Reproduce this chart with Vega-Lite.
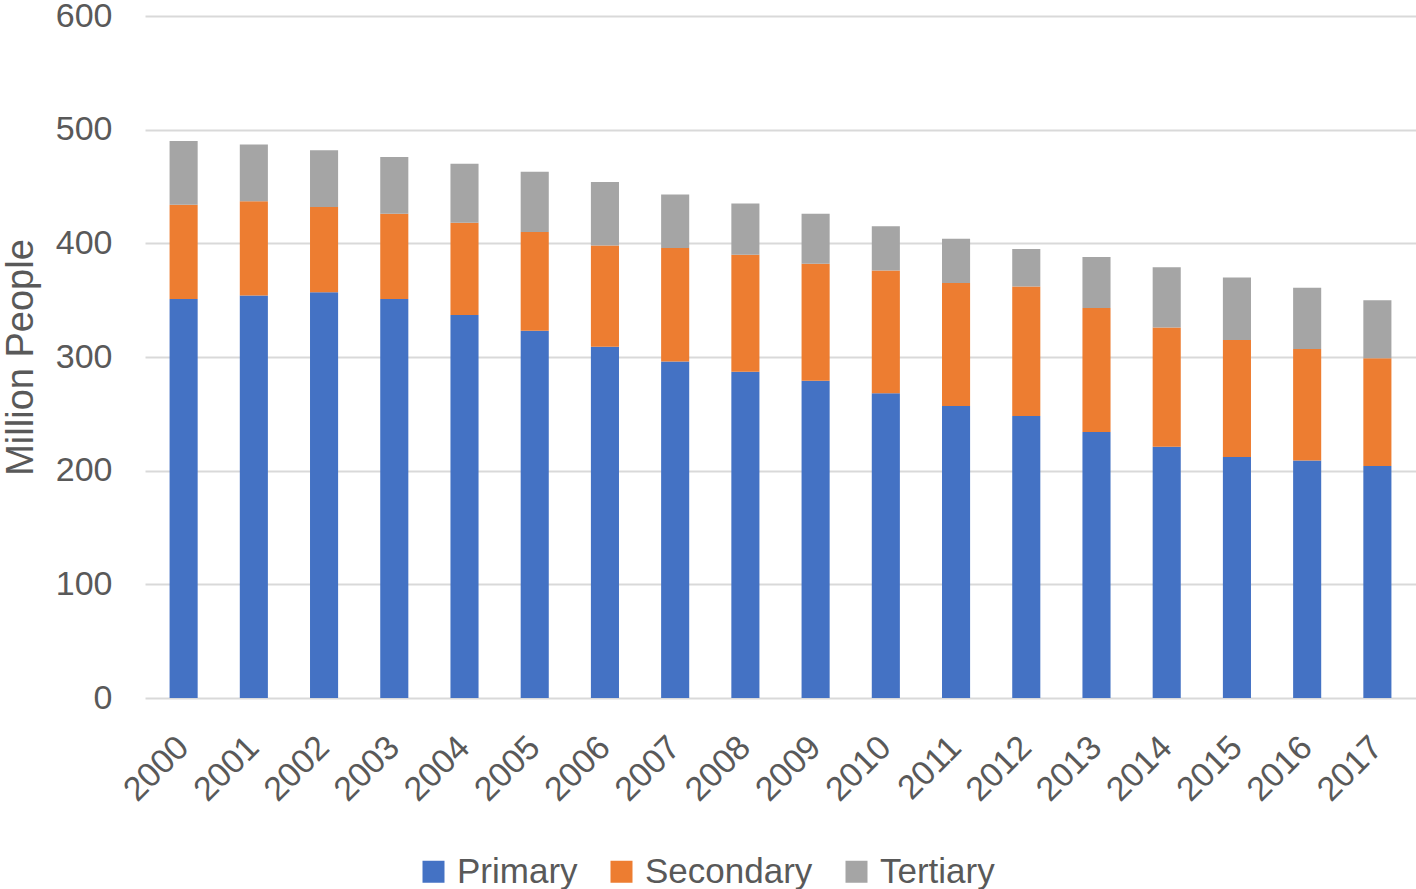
{
  "$schema": "https://vega.github.io/schema/vega-lite/v6.json",
  "width": 1271,
  "height": 682,
  "autosize": {"type": "none"},
  "padding": {"left": 145, "top": 16, "right": 0, "bottom": 191},
  "background": "white",
  "config": {
    "view": {"stroke": null},
    "font": "Liberation Sans"
  },
  "data": {
    "values": [
      {"year": "2000", "level": "Primary", "value": 351}, {"year": "2000", "level": "Secondary", "value": 83}, {"year": "2000", "level": "Tertiary", "value": 56},
      {"year": "2001", "level": "Primary", "value": 354}, {"year": "2001", "level": "Secondary", "value": 83}, {"year": "2001", "level": "Tertiary", "value": 50},
      {"year": "2002", "level": "Primary", "value": 357}, {"year": "2002", "level": "Secondary", "value": 75}, {"year": "2002", "level": "Tertiary", "value": 50},
      {"year": "2003", "level": "Primary", "value": 351}, {"year": "2003", "level": "Secondary", "value": 75}, {"year": "2003", "level": "Tertiary", "value": 50},
      {"year": "2004", "level": "Primary", "value": 337}, {"year": "2004", "level": "Secondary", "value": 81}, {"year": "2004", "level": "Tertiary", "value": 52},
      {"year": "2005", "level": "Primary", "value": 323}, {"year": "2005", "level": "Secondary", "value": 87}, {"year": "2005", "level": "Tertiary", "value": 53},
      {"year": "2006", "level": "Primary", "value": 309}, {"year": "2006", "level": "Secondary", "value": 89}, {"year": "2006", "level": "Tertiary", "value": 56},
      {"year": "2007", "level": "Primary", "value": 296}, {"year": "2007", "level": "Secondary", "value": 100}, {"year": "2007", "level": "Tertiary", "value": 47},
      {"year": "2008", "level": "Primary", "value": 287}, {"year": "2008", "level": "Secondary", "value": 103}, {"year": "2008", "level": "Tertiary", "value": 45},
      {"year": "2009", "level": "Primary", "value": 279}, {"year": "2009", "level": "Secondary", "value": 103}, {"year": "2009", "level": "Tertiary", "value": 44},
      {"year": "2010", "level": "Primary", "value": 268}, {"year": "2010", "level": "Secondary", "value": 108}, {"year": "2010", "level": "Tertiary", "value": 39},
      {"year": "2011", "level": "Primary", "value": 257}, {"year": "2011", "level": "Secondary", "value": 108}, {"year": "2011", "level": "Tertiary", "value": 39},
      {"year": "2012", "level": "Primary", "value": 248}, {"year": "2012", "level": "Secondary", "value": 114}, {"year": "2012", "level": "Tertiary", "value": 33},
      {"year": "2013", "level": "Primary", "value": 234}, {"year": "2013", "level": "Secondary", "value": 109}, {"year": "2013", "level": "Tertiary", "value": 45},
      {"year": "2014", "level": "Primary", "value": 221}, {"year": "2014", "level": "Secondary", "value": 105}, {"year": "2014", "level": "Tertiary", "value": 53},
      {"year": "2015", "level": "Primary", "value": 212}, {"year": "2015", "level": "Secondary", "value": 103}, {"year": "2015", "level": "Tertiary", "value": 55},
      {"year": "2016", "level": "Primary", "value": 209}, {"year": "2016", "level": "Secondary", "value": 98}, {"year": "2016", "level": "Tertiary", "value": 54},
      {"year": "2017", "level": "Primary", "value": 204}, {"year": "2017", "level": "Secondary", "value": 95}, {"year": "2017", "level": "Tertiary", "value": 51}
    ]
  },
  "mark": {"type": "bar"},
  "encoding": {
    "x": {
      "field": "year",
      "type": "ordinal",
      "scale": {"paddingInner": 0.6, "paddingOuter": 0.35},
      "axis": {
        "title": null,
        "labelAngle": -45,
        "labelAlign": "right",
        "labelBaseline": "middle",
        "labelFontSize": 34,
        "labelColor": "#595959",
        "ticks": false,
        "domain": false,
        "labelPadding": 44
      }
    },
    "y": {
      "field": "value",
      "type": "quantitative",
      "stack": "zero",
      "scale": {"domain": [0, 600], "nice": false},
      "axis": {
        "values": [0, 100, 200, 300, 400, 500, 600],
        "title": "Million People",
        "titleFontSize": 38,
        "titleFontWeight": "normal",
        "titleColor": "#595959",
        "titleX": -113,
        "titleBaseline": "alphabetic",
        "labelFontSize": 34,
        "labelColor": "#595959",
        "labelPadding": 33,
        "grid": true,
        "gridColor": "#d9d9d9",
        "gridWidth": 2,
        "domain": false,
        "ticks": false
      }
    },
    "color": {
      "field": "level",
      "type": "nominal",
      "scale": {
        "domain": ["Primary", "Secondary", "Tertiary"],
        "range": ["#4472C4", "#ED7D31", "#A5A5A5"]
      },
      "legend": {
        "title": null,
        "orient": "none",
        "direction": "horizontal",
        "legendX": 271,
        "legendY": 838,
        "padding": 0,
        "symbolType": "square",
        "symbolSize": 484,
        "symbolStrokeWidth": 0,
        "symbolOpacity": 1,
        "labelFontSize": 35,
        "labelColor": "#595959",
        "labelOffset": 6,
        "columnPadding": 26,
        "labelLimit": 400
      }
    },
    "order": {"field": "level", "sort": "ascending"}
  }
}
